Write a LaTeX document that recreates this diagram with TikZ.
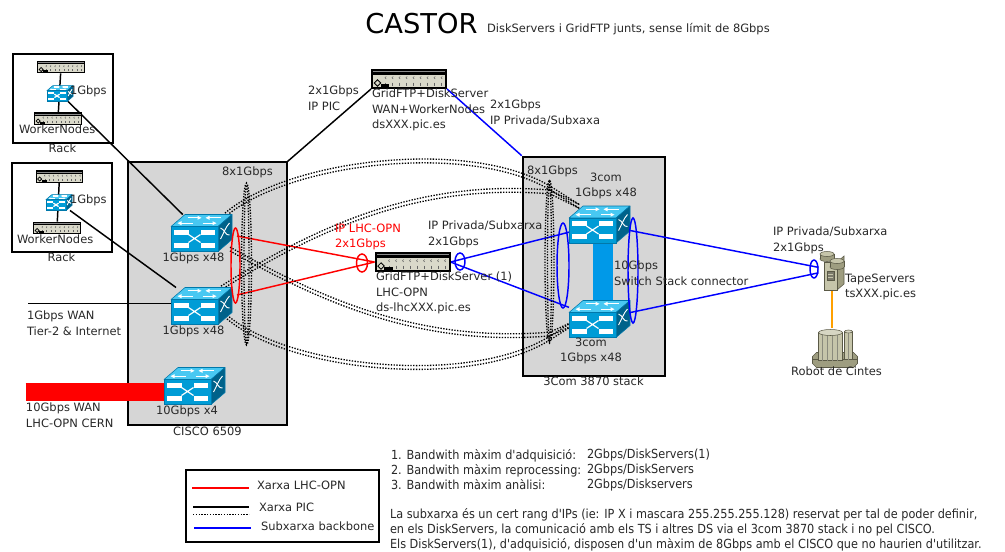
\documentclass[tikz,border=0pt]{standalone}
\usepackage{fontspec}
\setmainfont{DejaVu Sans}
\newfontfamily\notefont[FakeStretch=0.9, Ligatures=TeXOff]{DejaVu Sans}
\usetikzlibrary{calc}

\definecolor{boxgray}{RGB}{214,214,214}
\definecolor{swtop}{RGB}{72,200,242}
\definecolor{swfront}{RGB}{0,156,214}
\definecolor{swside}{RGB}{0,98,138}
\definecolor{swline}{RGB}{0,120,170}
\definecolor{panel}{RGB}{218,217,202}
\definecolor{stackblue}{RGB}{0,153,232}
\definecolor{linkblue}{RGB}{0,0,255}
\definecolor{linkred}{RGB}{255,0,0}
\definecolor{olivelight}{RGB}{198,197,170}
\definecolor{olivemid}{RGB}{158,157,128}
\definecolor{olivedark}{RGB}{90,89,70}
\definecolor{tapeorange}{RGB}{255,160,0}
\definecolor{ink}{RGB}{40,40,40}

\tikzset{
  txt/.style={inner sep=0pt, outer sep=0pt, text=ink, font=\fontsize{8.6}{11.6}\selectfont},
  txtl/.style={txt, anchor=north west, align=left},
  txtc/.style={txt, anchor=north, align=center},
  notetxt/.style={inner sep=0pt, outer sep=0pt, text=ink, anchor=north west, align=left,
    font=\notefont\fontsize{9.4}{11.25}\selectfont},
  devbox/.style={draw=black, line width=1.5pt, fill=boxgray, inner sep=0pt},
  framebox/.style={draw=black, line width=1.5pt, fill=white, inner sep=0pt},
  swslot/.style={inner sep=0pt, outer sep=0pt, minimum width=45.75pt, minimum height=27.75pt},
  miniswslot/.style={inner sep=0pt, outer sep=0pt, minimum width=19.5pt, minimum height=12pt},
  srvslot/.style={inner sep=0pt, outer sep=0pt, minimum width=57pt, minimum height=15pt},
  rsrvslot/.style={inner sep=0pt, outer sep=0pt, minimum width=36pt, minimum height=9.5pt},
  tapeslot/.style={inner sep=0pt, outer sep=0pt, minimum width=20.25pt, minimum height=30pt},
  robotslot/.style={inner sep=0pt, outer sep=0pt, minimum width=33.75pt, minimum height=29.25pt},
  piclink/.style={draw=black, line width=1.1pt},
  lhclink/.style={draw=linkred, line width=1.1pt},
  bblink/.style={draw=linkblue, line width=1.1pt},
  dotlink/.style={draw=black, line width=1pt, dash pattern=on 1pt off 1.1pt},
  % workgroup switch, drawn around its centre (61 x 37 units)
  netswitch/.pic={
    \filldraw[fill=swtop, draw=swline, line width=0.4pt, line join=round]
      (-30.5,-6.5) -- (16.5,-6.5) -- (30.5,-18.5) -- (-16.5,-18.5) -- cycle;
    \filldraw[fill=swside, draw=swline, line width=0.4pt, line join=round]
      (16.5,-6.5) -- (30.5,-18.5) -- (30.5,6.5) -- (16.5,18.5) -- cycle;
    \filldraw[fill=swfront, draw=swline, line width=0.4pt] (-30.5,-6.5) rectangle (16.5,18.5);
    \fill[white] (-27.5,-3.5) rectangle (-13,1.5);
    \fill[white] (-1,-3.5) rectangle (13.5,1.5);
    \fill[white] (-27.5,9.5) rectangle (-13,14.5);
    \fill[white] (-1,9.5) rectangle (13.5,14.5);
    \draw[white, line width=0.9pt] (-13,1.5) -- (-1,9.5) (-13,9.5) -- (-1,1.5);
    % arrows on the top face
    \draw[white, line width=0.8pt] (-21,-9.8) -- (-9,-9.8);
    \fill[white] (-24,-9.8) -- (-20,-11.8) -- (-20,-7.8) -- cycle;
    \draw[white, line width=0.8pt] (1,-9.8) -- (12,-9.8);
    \fill[white] (15,-9.8) -- (11,-11.8) -- (11,-7.8) -- cycle;
    \draw[white, line width=0.8pt] (-14,-15.2) -- (-3,-15.2);
    \fill[white] (0,-15.2) -- (-4,-17.2) -- (-4,-13.2) -- cycle;
    \draw[white, line width=0.8pt] (7,-15.2) -- (19,-15.2);
    \fill[white] (4,-15.2) -- (8,-17.2) -- (8,-13.2) -- cycle;
    % symbol on the side face
    \draw[white, line width=0.7pt] (19,6) .. controls (22,1) and (24,-6) .. (28,-10);
    \draw[white, line width=0.7pt] (19,-5) .. controls (23,-4) and (24,3) .. (28,2);
  },
  % rack mounted server, drawn around its centre (76 x 20 units)
  servunit/.pic={
    \fill[black] (-38,-10) rectangle (38,10);
    \fill[black!45] (-36,-7.6) rectangle (36,-6.6);
    \fill[panel] (-36,-4.5) rectangle (36,8.2);
    \foreach \t in {-24,-17,...,32}{
      \draw[black!60, line width=0.35pt] ({\t+1.2},-2.6) -- (\t,-1.3) -- ({\t+1.2},0);
      \draw[black!60, line width=0.35pt] ({\t+0.6},3.6) -- ({\t+0.6},6.6);
    }
    \filldraw[fill=panel, draw=black, line width=0.6pt]
      (-31.5,0.8) -- (-28.3,4) -- (-31.5,7.2) -- (-34.7,4) -- cycle;
    \fill[black] (-28.5,5.2) rectangle (-20,8.2);
  },
  % tape server tower with two drums
  tapeunit/.pic={
    \filldraw[fill=olivemid, draw=olivedark, line width=0.4pt]
      (5,-8) -- (12,-14) -- (12,14) -- (5,20) -- cycle;
    \filldraw[fill=olivelight, draw=olivedark, line width=0.4pt] (-8,-8) rectangle (5,20);
    \filldraw[fill=olivedark!80, draw=olivedark] (-5,1) rectangle (2,10);
    \draw[olivelight, line width=0.4pt] (-4,4) -- (1,4) (-4,7) -- (1,7);
    \filldraw[fill=olivemid, draw=olivedark, line width=0.4pt] (-5,-11) ellipse [x radius=7, y radius=2.5];
    \fill[olivemid] (-12,-16) rectangle (2,-11);
    \draw[olivedark, line width=0.4pt] (-12,-16) -- (-12,-11) (2,-16) -- (2,-11);
    \filldraw[fill=olivelight, draw=olivedark, line width=0.4pt] (-5,-16) ellipse [x radius=7, y radius=2.5];
    \filldraw[fill=olivemid, draw=olivedark, line width=0.4pt] (5,-3) ellipse [x radius=7, y radius=2.5];
    \fill[olivemid] (-2,-9) rectangle (12,-3);
    \draw[olivedark, line width=0.4pt] (-2,-9) -- (-2,-3) (12,-9) -- (12,-3);
    \filldraw[fill=olivelight, draw=olivedark, line width=0.4pt] (5,-9) ellipse [x radius=7, y radius=2.5];
  },
  % tape library
  robotunit/.pic={
    \filldraw[fill=olivemid, draw=olivedark, line width=0.4pt]
      (-22,9) -- (-18,5) -- (19,5) -- (23,9) -- (23,16) -- (19,20) -- (-18,20) -- (-22,16) -- cycle;
    \draw[olivedark, line width=0.4pt] (-22,12) -- (23,12);
    \filldraw[fill=olivelight, draw=olivedark, line width=0.4pt] (-16,-15) rectangle (8,13);
    \foreach \s in {-12,-7,-2,3}{
      \draw[olivedark!70, line width=0.5pt] (\s,-14) -- (\s,13);
    }
    \filldraw[fill=olivelight!70!white, draw=olivedark, line width=0.4pt] (-4,-15) ellipse [x radius=12, y radius=3];
    \filldraw[fill=olivelight, draw=olivedark, line width=0.4pt] (10,-16) rectangle (18,12);
    \draw[olivedark!70, line width=0.5pt] (14,-15) -- (14,12);
    \filldraw[fill=olivelight!70!white, draw=olivedark, line width=0.4pt] (14,-16) ellipse [x radius=4, y radius=1.5];
  }
}

\begin{document}
\begin{tikzpicture}[x=0.75pt,y=-0.75pt]
\useasboundingbox (0,0) rectangle (1005,551);
\fill[white] (0,0) rectangle (1005,551);

% ---------- frames ----------
\node[devbox, minimum width=119.25pt, minimum height=197pt] (cisco) at (207.2,293.65) {};
\node[devbox, minimum width=106.7pt, minimum height=164.5pt] (stack) at (593.85,266.35) {};
\node[framebox, minimum width=75pt, minimum height=66.75pt] (rack1) at (62.7,98.8) {};
\node[framebox, minimum width=75pt, minimum height=66.75pt] (rack2) at (61.7,207.5) {};
\node[framebox, minimum width=144.75pt, minimum height=54pt] (legend) at (282.5,506) {};

% ---------- device slots ----------
\node[rsrvslot] (r1a) at (61,67) {};
\node[miniswslot] (rs1) at (60,93.5) {};
\node[rsrvslot] (r1b) at (58,118.5) {};
\node[rsrvslot] (r2a) at (59.5,176.5) {};
\node[miniswslot] (rs2) at (59,202.5) {};
\node[rsrvslot] (r2b) at (57,228) {};
\node[swslot] (sw1) at (201.5,233) {};
\node[swslot] (sw2) at (201.5,306) {};
\node[swslot] (sw3) at (194.5,386) {};
\node[swslot] (tc1) at (599.5,224.5) {};
\node[swslot] (tc2) at (599.5,319) {};
\node[srvslot] (dsw) at (409,79) {};
\node[srvslot] (dsl) at (412.5,262) {};
\node[tapeslot] (tape) at (832,270) {};
\node[robotslot] (robot) at (834.5,347.5) {};
\coordinate (wan1) at (28,303.3);
\coordinate (wan10) at (25.7,391.9);

% ---------- links ----------
\draw[piclink] (r1a) -- (r1b);
\draw[piclink] (r2a) -- (r2b);
\draw[piclink] (rs1) -- (sw1);
\draw[piclink] (rs2) -- (sw2);
\draw[piclink] (wan1) -- (wan1 -| sw2);
\draw[linkred, line width=13.7pt] (wan10) -- (wan10 -| sw3);
\draw[piclink] (cisco.north east) -- (dsw.south west);
\draw[bblink] (dsw.south east) -- (stack.north west);
\draw[lhclink] ($(sw1.east)+(5,3)$) -- (dsl.west);
\draw[lhclink] ($(sw2.east)+(5,-11)$) -- (dsl.west);
\draw[bblink] (dsl.east) -- (tc1);
\draw[bblink] (dsl.east) -- (tc2);
\draw[stackblue, line width=15pt] ($(tc1)+(3.5,0)$) -- ($(tc2)+(3.5,0)$);
\draw[bblink] (tc1) -- (tape);
\draw[bblink] (tc2) -- (tape);
\draw[tapeorange, line width=1.1pt] (tape.south) -- (tape.south |- robot.north);

% ---------- 8x1Gbps trunks ----------
\foreach \d in {-1.9,1.9}{
  \draw[dotlink] ($(sw1)+(23.5,{-18+\d})$) .. controls (290,{160+\d}) and (470,{140+\d}) .. (550,{188+\d}) -- ($(tc1)+(-20,{-18+\d})$);
  \draw[dotlink] ($(sw2)+(19.5,{-18+\d})$) .. controls (320,{226+\d}) and (420,{181+\d}) .. (550,{192+\d}) -- ($(tc1)+(-20,{-18+\d})$);
  \draw[dotlink] ($(sw1)+(28.5,{16+\d})$) .. controls (320,{300+\d}) and (420,{345+\d}) .. (550,{334+\d}) -- ($(tc2)+(-27.5,{5+\d})$);
  \draw[dotlink] ($(sw2)+(25.5,{11+\d})$) .. controls (290,{370+\d}) and (470,{388+\d}) .. (550,{338+\d}) -- ($(tc2)+(-27.5,{5+\d})$);
}

% ---------- devices ----------
\pic at (r1a) [scale=0.63] {servunit};
\pic at (r1b) [scale=0.63] {servunit};
\pic at (r2a) [scale=0.63] {servunit};
\pic at (r2b) [scale=0.63] {servunit};
\pic at (rs1) [scale=0.43] {netswitch};
\pic at (rs2) [scale=0.43] {netswitch};
\pic at (sw1) {netswitch};
\pic at (sw2) {netswitch};
\pic at (sw3) {netswitch};
\pic at (tc1) {netswitch};
\pic at (tc2) {netswitch};
\pic at (dsw) {servunit};
\pic at (dsl) {servunit};
\pic at (tape) {tapeunit};
\pic at (robot) {robotunit};

% ---------- bundle markers ----------
\draw[linkred, line width=1.1pt] (235.5,265.5) ellipse [x radius=4.5, y radius=37.5];
\draw[linkred, line width=1.1pt] (362,263) ellipse [x radius=5.5, y radius=9];
\draw[linkblue, line width=1.1pt] (460,261.5) ellipse [x radius=5, y radius=8.5];
\draw[linkblue, line width=1.1pt] (563,265.5) ellipse [x radius=6, y radius=42.5];
\draw[linkblue, line width=1.1pt] (633,270.5) ellipse [x radius=5, y radius=52.5];
\draw[linkblue, line width=1.1pt] (814,269) ellipse [x radius=4, y radius=9];
\draw[dotlink] (246.5,264) ellipse [x radius=5, y radius=81];
\draw[dotlink] (246.5,264) ellipse [x radius=2.5, y radius=79];
\draw[dotlink] (549.5,261.5) ellipse [x radius=4.5, y radius=81.5];
\draw[dotlink] (549.5,261.5) ellipse [x radius=2, y radius=79.5];

% ---------- legend ----------
\coordinate (keyredA) at (192,487.7);   \coordinate (keyredB) at (249,487.7);
\coordinate (keypicA) at (193,507);     \coordinate (keypicB) at (249,507);
\coordinate (keydotA) at (193,514.3);   \coordinate (keydotB) at (249,514.3);
\coordinate (keyblueA) at (194,527.7);  \coordinate (keyblueB) at (251,527.7);
\draw[linkred, line width=1.3pt] (keyredA) -- (keyredB);
\draw[black, line width=1.3pt] (keypicA) -- (keypicB);
\draw[dotlink] (keydotA) -- (keydotB);
\draw[linkblue, line width=1.3pt] (keyblueA) -- (keyblueB);
\node[txtl] (lgt1) at (257,481) {Xarxa LHC-OPN};
\node[txtl] (lgt2) at (259,503) {Xarxa PIC};
\node[txtl] (lgt3) at (261,522) {Subxarxa backbone};

% ---------- texts ----------
\node[anchor=base west, inner sep=0pt, text=black, font=\fontsize{20.5}{24}\selectfont] (title) at (365,33) {CASTOR};
\node[txt, anchor=base west] (subtitle) at (487,32) {DiskServers i GridFTP junts, sense límit de 8Gbps};

\node[txtl] (rk1a) at (70,86) {1Gbps};
\node[txtl] (rk1b) at (19,125) {WorkerNodes};
\node[txtc] (rk1c) at (62.5,143.5) {Rack};
\node[txtl] (rk2a) at (70,195) {1Gbps};
\node[txtl] (rk2b) at (17,235) {WorkerNodes};
\node[txtc] (rk2c) at (61.5,253) {Rack};

\node[txtl] (c8) at (222,167) {8x1Gbps};
\node[txtc] (sw1t) at (193.5,252.5) {1Gbps x48};
\node[txtc] (sw2t) at (193.5,326) {1Gbps x48};
\node[txtc] (sw3t) at (187,405.5) {10Gbps x4};
\node[txtc] (ciscot) at (207.5,427) {CISCO 6509};
\node[txtl] (wan1t) at (27,311) {1Gbps WAN\\Tier-2 \& Internet};
\node[txtl] (wan10t) at (26,403) {10Gbps WAN\\LHC-OPN CERN};

\node[txtl] (pict) at (308,86) {2x1Gbps\\IP PIC};
\node[txtl] (dswt) at (372,89) {GridFTP+DiskServer\\WAN+WorkerNodes\\dsXXX.pic.es};
\node[txtl] (privt) at (490,100) {2x1Gbps\\IP Privada/Subxaxa};
\node[txtl, text=linkred] (lhct) at (335,224) {IP LHC-OPN\\2x1Gbps};
\node[txtl] (privt2) at (428,221) {IP Privada/Subxarxa\\2x1Gbps};
\node[txtl] (dslt) at (376,272) {GridFTP+DiskServer (1)\\LHC-OPN\\ds-lhcXXX.pic.es};

\node[txtl] (s8) at (527,166) {8x1Gbps};
\node[txtc] (tc1t) at (606,173) {3com\\1Gbps x48};
\node[txtl] (stackt) at (614,261) {10Gbps\\Switch Stack connector};
\node[txtc] (tc2t) at (591,338) {3com\\1Gbps x48};
\node[txtc] (stackn) at (593.5,377) {3Com 3870 stack};

\node[txtl] (privt3) at (773,227) {IP Privada/Subxarxa\\2x1Gbps};
\node[txtl] (tapet) at (845,274) {TapeServers\\tsXXX.pic.es};
\node[txtc] (robott) at (836.5,367) {Robot de Cintes};

% ---------- notes ----------
\node[notetxt] (bw) at (391,449) {1. Bandwith màxim d'adquisició:\\2. Bandwith màxim reprocessing:\\3. Bandwith màxim anàlisi:};
\node[notetxt] (bwv) at (587,449) {2Gbps/DiskServers(1)\\2Gbps/DiskServers\\2Gbps/Diskservers};
\node[notetxt] (nota) at (390,508) {La subxarxa és un cert rang d'IPs (ie: IP X i mascara 255.255.255.128) reservat per tal de poder definir,\\en els DiskServers, la comunicació amb els TS i altres DS via el 3com 3870 stack i no pel CISCO.\\Els DiskServers(1), d'adquisició, disposen d'un màxim de 8Gbps amb el CISCO que no haurien d'utilitzar.};
\end{tikzpicture}
\end{document}
